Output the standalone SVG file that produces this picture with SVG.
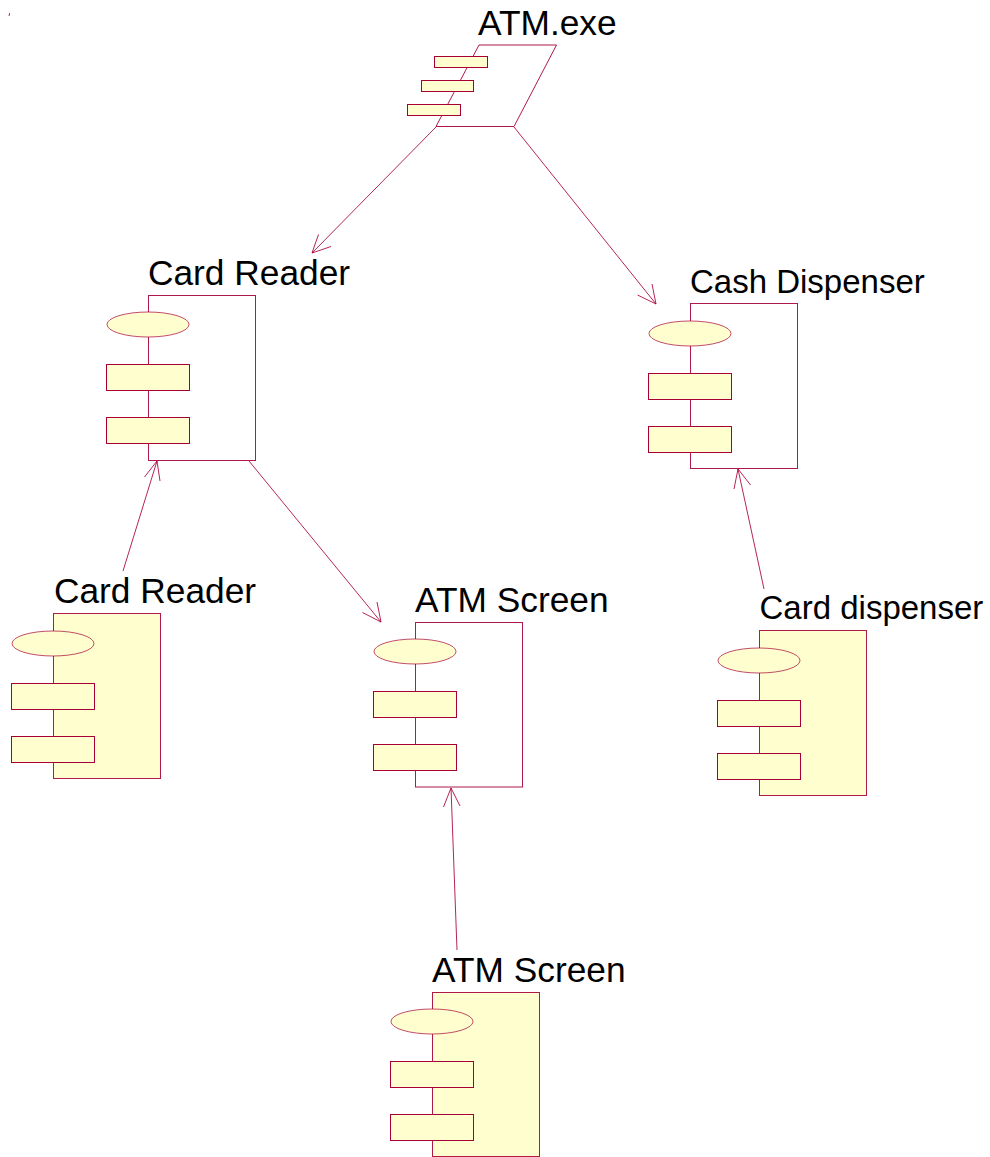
<svg xmlns="http://www.w3.org/2000/svg" xmlns:xlink="http://www.w3.org/1999/xlink" width="990" height="1157" viewBox="0 0 990 1157">
<style>
.l{fill:none;stroke:#a80036;stroke-width:1;stroke-opacity:.85}
.b{fill:#fefece;stroke:#a80036;stroke-width:1;stroke-opacity:.9}
.e{fill:#fefece;stroke:#a80036;stroke-width:1;stroke-opacity:.7}
.w{fill:#fff;stroke:#a80036;stroke-width:1;stroke-opacity:.9}
.s{fill:#fefece;stroke:#a80036;stroke-width:1}
text{font-family:"Liberation Sans",Arial,sans-serif;font-size:35.3px;fill:#000}
</style>
<defs>
<g id="parts">
<ellipse class="e" cx="0" cy="29" rx="41" ry="12.5"/>
<rect class="s" x="-41.5" y="69" width="83" height="26"/>
<rect class="s" x="-41.5" y="122" width="83" height="26"/>
</g>
</defs>
<rect width="990" height="1157" fill="#fff"/>
<path class="l" d="M9 16l0.7 -3"/>
<g id="connectors">
<path class="l" d="M436 127L312 253M312 253L318.500 234.500M312 253L331 246.500"/>
<path class="l" d="M514 127L656 304M656 304L637.500 295M656 304L652 284"/>
<path class="l" d="M123 571L157 461M157 461L144.500 477M157 461L160 481"/>
<path class="l" d="M249 461L381 622M381 622L362.500 612.500M381 622L377 602"/>
<path class="l" d="M764 589L738 469M738 469L734 489M738 469L750.500 485"/>
<path class="l" d="M457 950L451 788M451 788L443.500 807M451 788L460 806"/>
</g>
<g id="atm-exe">
<path class="w" d="M479 45H556.500L514 126.500H436Z"/>
<rect class="s" x="434.500" y="56.500" width="53" height="11"/>
<rect class="s" x="421.500" y="80.500" width="52" height="11"/>
<rect class="s" x="407.500" y="104.500" width="53" height="11"/>
<text x="478" y="35">ATM.exe</text>
</g>
<g id="card-reader-spec">
<rect class="w" x="148.500" y="295.500" width="107" height="165"/>
<use xlink:href="#parts" href="#parts" x="148" y="295.500"/>
<text x="148" y="285">Card Reader</text>
</g>
<g id="cash-dispenser">
<rect class="w" x="690.500" y="303.500" width="107" height="165"/>
<use xlink:href="#parts" href="#parts" x="690" y="304.500"/>
<text x="690" y="293" style="font-size:33px">Cash Dispenser</text>
</g>
<g id="card-reader-body">
<rect class="b" x="53.500" y="613.500" width="107" height="165"/>
<use xlink:href="#parts" href="#parts" x="53" y="614.500"/>
<text x="54" y="603">Card Reader</text>
</g>
<g id="atm-screen-spec">
<rect class="w" x="415.500" y="622.500" width="107" height="164.500"/>
<use xlink:href="#parts" href="#parts" x="415" y="622.500"/>
<text x="415" y="612">ATM Screen</text>
</g>
<g id="card-dispenser">
<rect class="b" x="759.500" y="630.500" width="107" height="165"/>
<use xlink:href="#parts" href="#parts" x="759" y="631.500"/>
<text x="759.500" y="619" style="font-size:33px">Card dispenser</text>
</g>
<g id="atm-screen-body">
<rect class="b" x="432.500" y="992.500" width="107" height="164"/>
<use xlink:href="#parts" href="#parts" x="432" y="992.500"/>
<text x="432" y="982">ATM Screen</text>
</g>
</svg>
